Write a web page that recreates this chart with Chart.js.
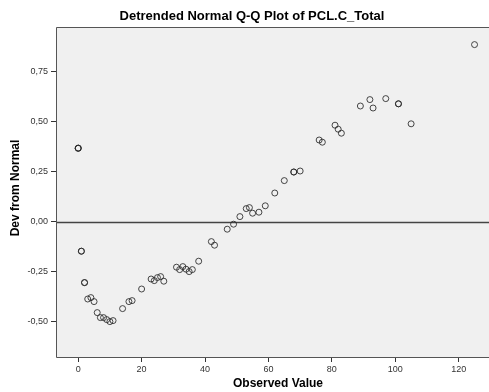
<!DOCTYPE html>
<html>
<head>
<meta charset="utf-8">
<script src="https://cdn.jsdelivr.net/npm/chart.js@4/dist/chart.umd.min.js"></script>
<style>
  html, body { margin:0; padding:0; background:#fff; }
  #wrap { width:489px; height:392px; }
</style>
</head>
<body>
<div id="wrap"><canvas id="qq"></canvas></div>
<script>
const TITLE  = 'Detrended Normal Q-Q Plot of PCL.C_Total';
const XTITLE = 'Observed Value';
const YTITLE = 'Dev from Normal';

// observed value / deviation from normal (repeats = overlapping ties)
const observed = [0,0,0, 1,1, 2,2, 3,4,5,6,7,8,9,10,11,14,16,17,20,
  23,24,25,26,27,31,32,33,34,35,36,38,42,43,47,49,51,53,54,55,
  57,59,62,65,68,68,70,76,77,81,82,83,89,92,93,97,101,101,105,125];
const devNormal = [0.367,0.367,0.367, -0.148,-0.148, -0.305,-0.305,
  -0.387,-0.38,-0.40,-0.455,-0.48,-0.48,-0.49,-0.50,-0.495,-0.435,-0.40,-0.395,-0.337,
  -0.287,-0.295,-0.28,-0.275,-0.298,-0.228,-0.24,-0.225,-0.238,-0.25,-0.24,-0.198,-0.10,-0.118,-0.038,-0.013,0.025,0.065,0.07,0.042,
  0.047,0.079,0.143,0.205,0.248,0.248,0.253,0.408,0.397,0.482,0.462,0.442,0.578,0.61,0.568,0.615,0.589,0.589,0.489,0.885];

const xTicks = [0,20,40,60,80,100,120];
const yTicks = [-0.5,-0.25,0,0.25,0.5,0.75];

const FONT = "'Liberation Sans', Arial, sans-serif";
const points = observed.map((x,i) => ({x, y: devNormal[i]}));

/* background, zero line, frame, titles */
const decor = {
  id: 'decor',
  beforeDraw(chart) {
    const {ctx, chartArea:a} = chart;
    ctx.save();
    ctx.fillStyle = '#fff';
    ctx.fillRect(0, 0, chart.width, chart.height);
    ctx.fillStyle = '#f0f0f0';
    ctx.fillRect(a.left, a.top, chart.width - a.left, a.bottom - a.top);
    ctx.restore();
  },
  beforeDatasetsDraw(chart) {
    const {ctx, chartArea:a, scales} = chart;
    const y0 = Math.round(scales.y.getPixelForValue(0)) + 0.5;
    ctx.save();
    ctx.strokeStyle = '#444';
    ctx.lineWidth = 1.5;
    ctx.beginPath();
    ctx.moveTo(a.left, y0); ctx.lineTo(chart.width, y0);
    ctx.stroke();
    ctx.restore();
  },
  afterDraw(chart) {
    const {ctx, chartArea:a} = chart;
    ctx.save();
    ctx.strokeStyle = '#555';
    ctx.lineWidth = 1;
    ctx.beginPath();
    ctx.moveTo(chart.width, a.top + 0.5);
    ctx.lineTo(a.left + 0.5, a.top + 0.5);
    ctx.lineTo(a.left + 0.5, a.bottom + 0.5);
    ctx.lineTo(chart.width, a.bottom + 0.5);
    ctx.stroke();

    ctx.fillStyle = '#000';
    ctx.textAlign = 'center';
    ctx.textBaseline = 'middle';
    ctx.font = 'bold 13px ' + FONT;
    ctx.fillText(TITLE, 252, 16);
    ctx.font = 'bold 12px ' + FONT;
    ctx.fillText(XTITLE, 278, 384);
    ctx.translate(16, 188);
    ctx.rotate(-Math.PI/2);
    ctx.fillText(YTITLE, 0, 0);
    ctx.restore();
  }
};

new Chart(document.getElementById('qq'), {
  type: 'scatter',
  data: { datasets: [{
    data: points,
    pointRadius: 3,
    pointHoverRadius: 3,
    borderWidth: 1,
    borderColor: 'rgba(40,40,40,0.85)',
    backgroundColor: 'rgba(0,0,0,0)'
  }]},
  options: {
    responsive: true, maintainAspectRatio: false, animation: false,
    layout: { padding: { top: 27, left: 0, right: 0, bottom: 0 } },
    plugins: { legend: {display:false}, tooltip: {enabled:false}, title: {display:false} },
    scales: {
      x: {
        type: 'linear', min: -7, max: 128.3,
        afterFit: s => { s.height = 35; },
        afterBuildTicks: s => { s.ticks = xTicks.map(v => ({value: v})); },
        border: { display: false },
        grid: { drawOnChartArea: false, drawTicks: true, tickLength: 5, color: '#333' },
        ticks: { padding: 2, color: '#333', font: { family: FONT, size: 9 }, maxRotation: 0 }
      },
      y: {
        type: 'linear', min: -0.677, max: 0.973,
        afterFit: s => { s.width = 56; },
        afterBuildTicks: s => { s.ticks = yTicks.map(v => ({value: v})); },
        border: { display: false },
        grid: { drawOnChartArea: false, drawTicks: true, tickLength: 5, color: '#333' },
        ticks: { padding: 3, color: '#333', font: { family: FONT, size: 9 },
          callback: v => v.toFixed(2).replace('.', ',') }
      }
    }
  },
  plugins: [decor]
});
</script>
</body>
</html>
